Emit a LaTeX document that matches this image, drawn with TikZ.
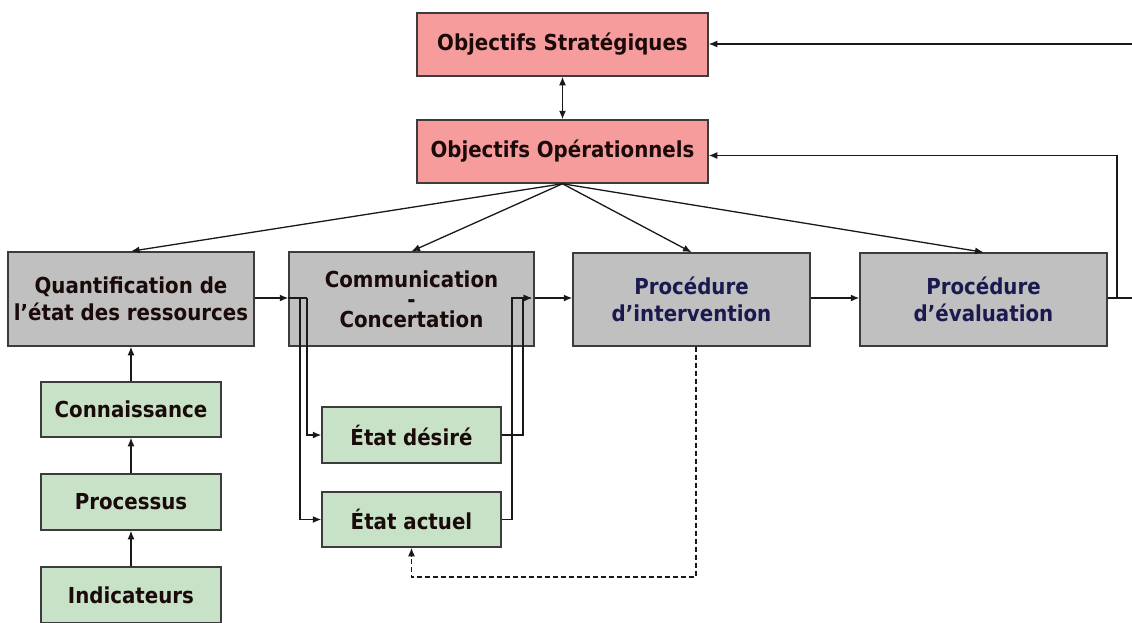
\documentclass[tikz,border=0pt]{standalone}
\usepackage{fontspec}
\setmainfont{DejaVu Sans}
\newfontfamily\boxfont{DejaVu Sans Condensed}
\usetikzlibrary{arrows.meta}
\definecolor{pinkfill}{HTML}{F79C9C}
\definecolor{grayfill}{HTML}{C0C0C0}
\definecolor{greenfill}{HTML}{C8E2C8}
\definecolor{edgecol}{HTML}{3C3C3C}
\definecolor{navy}{HTML}{1A1A50}
\definecolor{darktext}{HTML}{1A0A0A}
\tikzset{
  box/.style={draw=edgecol, line width=1.5pt, rectangle, inner sep=0pt, align=center,
    font=\boxfont\fontsize{22}{27}\selectfont\bfseries, text=darktext},
  redbox/.style={box, fill=pinkfill},
  graybox/.style={box, fill=grayfill},
  greenbox/.style={box, fill=greenfill},
  tip/.tip={Latex[length=8.5pt,width=7pt]},
  conn/.style={draw=black!90, line width=1.3pt, -tip},
  plain/.style={draw=black!90, line width=1.3pt},
}
\begin{document}
\begin{tikzpicture}[x=1pt,y=-1pt]
\useasboundingbox (0,0) rectangle (1132,622);
\clip (0,0) rectangle (1132,622);
\fill[white] (0,0) rectangle (1132,622);
% nodes
\node[redbox, minimum width=291pt, minimum height=63pt] (strat) at (562.5,44.5) {Objectifs Stratégiques};
\node[redbox, minimum width=291pt, minimum height=63pt] (oper) at (562.5,151.5) {Objectifs Opérationnels};
\node[graybox, minimum width=246pt, minimum height=94pt] (quant) at (131,299) {Quantification de\\l’état des ressources};
\node[graybox, minimum width=245pt, minimum height=94pt, font=\boxfont\fontsize{22}{20}\selectfont\bfseries] (comm) at (411.5,299) {Communication\\-\\Concertation};
\node[graybox, minimum width=237pt, minimum height=93pt, text=navy] (interv) at (691.5,299.5) {Procédure\\d’intervention};
\node[graybox, minimum width=247pt, minimum height=93pt, text=navy] (eval) at (983.5,299.5) {Procédure\\d’évaluation};
\node[greenbox, minimum width=180pt, minimum height=55pt] (conn) at (131,409.5) {Connaissance};
\node[greenbox, minimum width=180pt, minimum height=56pt] (proc) at (131,502) {Processus};
\node[greenbox, minimum width=180pt, minimum height=56pt] (indic) at (131,595) {Indicateurs};
\node[greenbox, minimum width=179pt, minimum height=56pt] (desire) at (411.5,435) {État désiré};
\node[greenbox, minimum width=179pt, minimum height=55pt] (actuel) at (411.5,519.5) {État actuel};
% coordinates
\coordinate (topright) at (1132,44);
\coordinate (rightedge) at (1132,298);
\coordinate (fork) at (1117,298);
\coordinate (splitA) at (300,298);
\coordinate (splitB) at (307,298);
\coordinate (joinA) at (523,298);
\coordinate (joinB) at (512,298);
\coordinate (joinEnd) at (532,298);
\coordinate (dashTurn) at (696,577);
% connectors
\draw[plain, tip-tip] (strat.south) -- (oper.north);
\draw[conn] (topright) -- (strat.east |- topright);
\draw[plain] (eval.east |- rightedge) -- (rightedge);
\draw[conn] (fork) |- ([yshift=-4pt]oper.east);
\draw[conn] (oper.south) -- (quant.north);
\draw[conn] (oper.south) -- (comm.north);
\draw[conn] (oper.south) -- (interv.north);
\draw[conn] (oper.south) -- (eval.north);
\draw[conn] (conn.north) -- (quant.south);
\draw[conn] (proc.north) -- (conn.south);
\draw[conn] (indic.north) -- (proc.south);
\draw[conn] (quant.east |- splitB) -- (comm.west |- splitB);
\draw[plain] (comm.west |- splitB) -- (splitB);
\draw[conn] (splitB) |- (desire.west);
\draw[conn] (splitA) |- (actuel.west);
\draw[conn] (desire.east) -| (joinA) -- (joinEnd);
\draw[conn] (actuel.east) -| (joinB) -- (joinEnd);
\draw[conn] (comm.east |- splitB) -- (interv.west |- splitB);
\draw[conn] (interv.east |- splitB) -- (eval.west |- splitB);
\draw[plain, dash pattern=on 5pt off 3pt, -tip] (interv.south -| dashTurn) -- (dashTurn) -| (actuel.south);
\end{tikzpicture}
\end{document}
